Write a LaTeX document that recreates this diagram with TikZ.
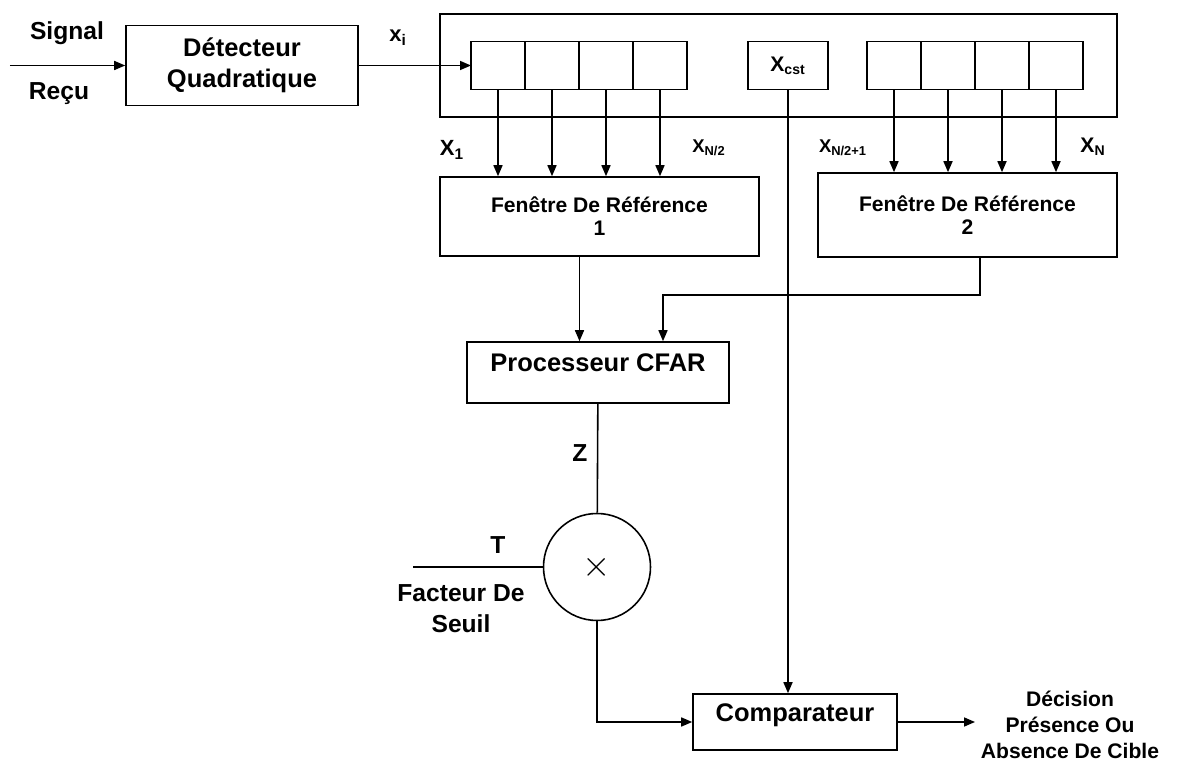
\documentclass[tikz,border=0pt]{standalone}
\usepackage{fontspec}
\setmainfont{Liberation Sans}
\usetikzlibrary{arrows.meta,positioning}

\begin{document}
\begin{tikzpicture}[
    box/.style={draw,align=center,font=\bfseries\fontsize{14.5}{17.5}\selectfont,line width=0.9pt},
    fenbox/.style={box,font=\bfseries\fontsize{12}{13}\selectfont},
    cell/.style={draw,minimum width=1.08cm,minimum height=0.96cm,outer sep=0pt,line width=0.9pt},
    lbl/.style={font=\bfseries\fontsize{14}{17.5}\selectfont,align=center},
    sublbl/.style={font=\bfseries\fontsize{10.5}{12}\selectfont},
    arrow/.style={-{Triangle[length=2.2mm,width=1.8mm]},line width=0.9pt},
    wire/.style={line width=0.9pt}
  ]
  \useasboundingbox (0,0) rectangle (23.58,15.24);

  % entree et detecteur
  \coordinate (in) at (0.2,13.93);
  \node[lbl] (sig) at (1.34,14.58) {Signal};
  \node[lbl] (recu) at (1.18,13.36) {Reçu};
  \node[box,minimum width=4.64cm,minimum height=1.6cm] (det) at (4.84,13.93) {Détecteur\\Quadratique};
  \node[lbl,font=\bfseries\fontsize{12.5}{14}\selectfont] (xi) at (7.96,14.48) {x\textsubscript{i}};

  % registre a decalage
  \node[draw,line width=0.9pt,minimum width=13.54cm,minimum height=2.06cm] (reg) at (15.57,13.93) {};
  \node[cell] (l1) at (9.96,13.93) {};
  \node[cell,right=0pt of l1] (l2) {};
  \node[cell,right=0pt of l2] (l3) {};
  \node[cell,right=0pt of l3] (l4) {};
  \node[box,minimum width=1.6cm,minimum height=0.96cm,font=\bfseries\fontsize{12}{13}\selectfont] (xcst) at (15.76,13.93) {X\textsubscript{cst}};
  \node[cell] (r1) at (17.88,13.93) {};
  \node[cell,right=0pt of r1] (r2) {};
  \node[cell,right=0pt of r2] (r3) {};
  \node[cell,right=0pt of r3] (r4) {};

  \node[sublbl,font=\bfseries\fontsize{12.5}{14}\selectfont] (x1) at (9.04,12.24) {X\textsubscript{1}};
  \node[sublbl] (xn2) at (14.18,12.28) {X\textsubscript{N/2}};
  \node[sublbl] (xn21) at (16.86,12.28) {X\textsubscript{N/2+1}};
  \node[sublbl,font=\bfseries\fontsize{12}{14}\selectfont] (xn) at (21.86,12.3) {X\textsubscript{N}};

  % fenetres et traitement
  \node[fenbox,minimum width=6.38cm,minimum height=1.58cm] (fen1) at (11.99,10.91) {Fenêtre De Référence\\1};
  \node[fenbox,minimum width=5.98cm,minimum height=1.68cm] (fen2) at (19.35,10.94) {Fenêtre De Référence\\2};
  \node[box,minimum width=5.24cm,minimum height=1.22cm,text depth=0.38cm] (cfar) at (11.96,7.79) {Processeur CFAR};
  \node[lbl] (z) at (11.6,6.18) {Z};
  \node[draw,circle,line width=0.9pt,minimum size=2.14cm,inner sep=0pt] (mult) at (11.94,3.9) {\huge$\times$};
  \coordinate (tin) at (8.26,3.9);
  \node[lbl] (t) at (9.96,4.34) {T};
  \node[lbl] (seuil) at (9.22,3.06) {Facteur De\\Seuil};
  \node[box,minimum width=4.08cm,minimum height=1.12cm,text depth=0.36cm] (comp) at (15.9,0.8) {Comparateur};
  \coordinate (out) at (19.5,0.8);
  \node[lbl,font=\bfseries\fontsize{12}{15}\selectfont] (dec) at (21.4,0.74) {Décision\\Présence Ou\\Absence De Cible};

  \draw[arrow] (in) -- (det);
  \draw[arrow] (det) -- (l1);
  \foreach \c in {l1,l2,l3,l4} \draw[arrow] (\c.south) -- (\c.south |- fen1.north);
  \foreach \c in {r1,r2,r3,r4} \draw[arrow] (\c.south) -- (\c.south |- fen2.north);
  \draw[arrow] ([xshift=-0.4cm]fen1.south) -- ([xshift=-0.4cm]fen1.south |- cfar.north);
  \draw[arrow] ([xshift=0.25cm]fen2.south) -- ++(0,-0.74) -| ([xshift=1.3cm]cfar.north);
  \draw[wire] (cfar) -- (mult);
  \draw[wire] (tin) -- (mult);
  \draw[arrow] (mult.south) |- (comp);
  \draw[arrow] (xcst.south) -- (xcst.south |- comp.north);
  \draw[arrow] (comp) -- (out);
\end{tikzpicture}
\end{document}
